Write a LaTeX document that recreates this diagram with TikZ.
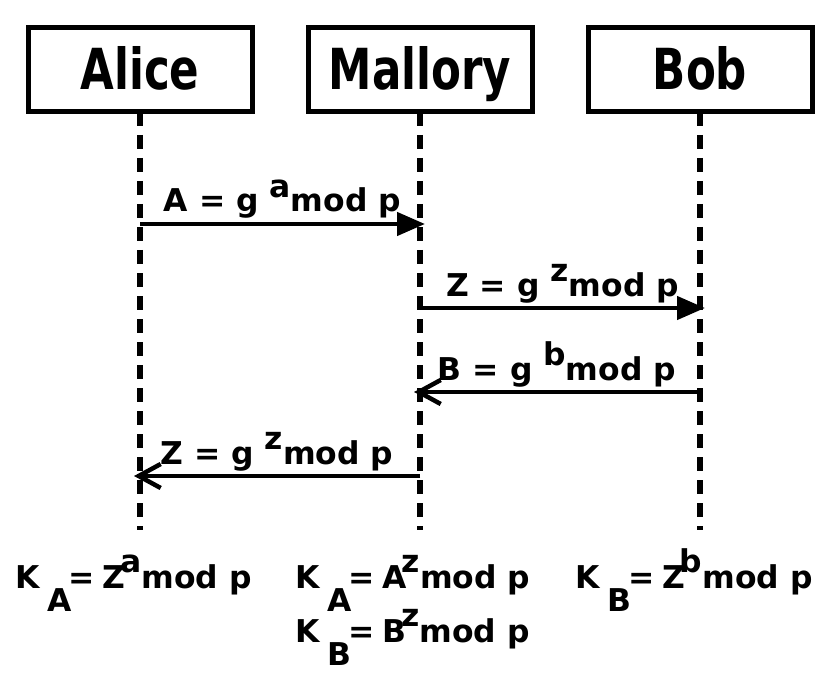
\documentclass[tikz,border=0pt]{standalone}
\usepackage{fontspec}
\setmainfont{DejaVu Sans}
\newfontfamily\titlefont{DejaVu Sans}[FakeStretch=0.77]
\usetikzlibrary{arrows.meta}

\newcommand{\msglabel}[2]{#1 = g \raisebox{0.45em}{#2}mod p}
\newcommand{\keylabel}[3]{K\hspace{0.25em}\raisebox{-0.75em}{#1}\kern-0.1em=\hspace{0.25em}#2\kern-0.17em\raisebox{0.5em}{#3}mod p}

\tikzset{
  actor/.style={draw, line width=2.5pt, minimum width=112pt, minimum height=42pt,
    inner sep=0pt, outer sep=0pt, text height=20.5pt, text depth=0.5pt,
    font=\titlefont\bfseries\fontsize{28.3}{32}\selectfont},
  lifeline/.style={line width=2.75pt, dash pattern=on 7pt off 4.5pt},
  send/.style={line width=2.25pt, -{Triangle[length=14pt,width=11.5pt]}},
  reply/.style={line width=2.25pt, -{Straight Barb[length=11pt,width=12pt]}},
  msgtext/.style={font=\bfseries\fontsize{15.7}{19}\selectfont, anchor=base, yshift=6pt},
  keytext/.style={font=\bfseries\fontsize{15.7}{19}\selectfont, anchor=base west, inner sep=0pt, xshift=-62.5pt}
}

\begin{document}
\begin{tikzpicture}[x=0.5pt,y=-0.5pt]
    \useasboundingbox (0,0) rectangle (840,700);
    % parties and their lifelines
    \foreach \name/\x/\who in {alice/140/Alice, mallory/420/Mallory, bob/700/Bob}{
      \node[actor] (\name) at (\x,70) {\who};
      \coordinate (\name end) at (\x,530);
      \draw[lifeline] (\name) -- (\name end);
    }
    % messages
    \foreach \src/\dst/\y/\dx/\kind/\txt in {
        alice/mallory/224/2.5pt/send/{\msglabel{A}{a}},
        mallory/bob/308/2.5pt/send/{\msglabel{Z}{z}},
        bob/mallory/392/-3pt/reply/{\msglabel{B}{b}},
        mallory/alice/476/-3pt/reply/{\msglabel{Z}{z}}}{
      \draw[\kind] (\src |- 0,\y) -- ([xshift=\dx]\dst |- 0,\y)
        node[msgtext, midway] {\txt};
    }
    % keys
    \node[keytext] (ka alice) at (alice |- 0,588) {\keylabel{A}{Z}{a}};
    \node[keytext] (ka mallory) at (mallory |- 0,588) {\keylabel{A}{A}{z}};
    \node[keytext] (kb mallory) at (mallory |- 0,642) {\keylabel{B}{B}{z}};
    \node[keytext] (kb bob) at (bob |- 0,588) {\keylabel{B}{Z}{b}};
\end{tikzpicture}
\end{document}
